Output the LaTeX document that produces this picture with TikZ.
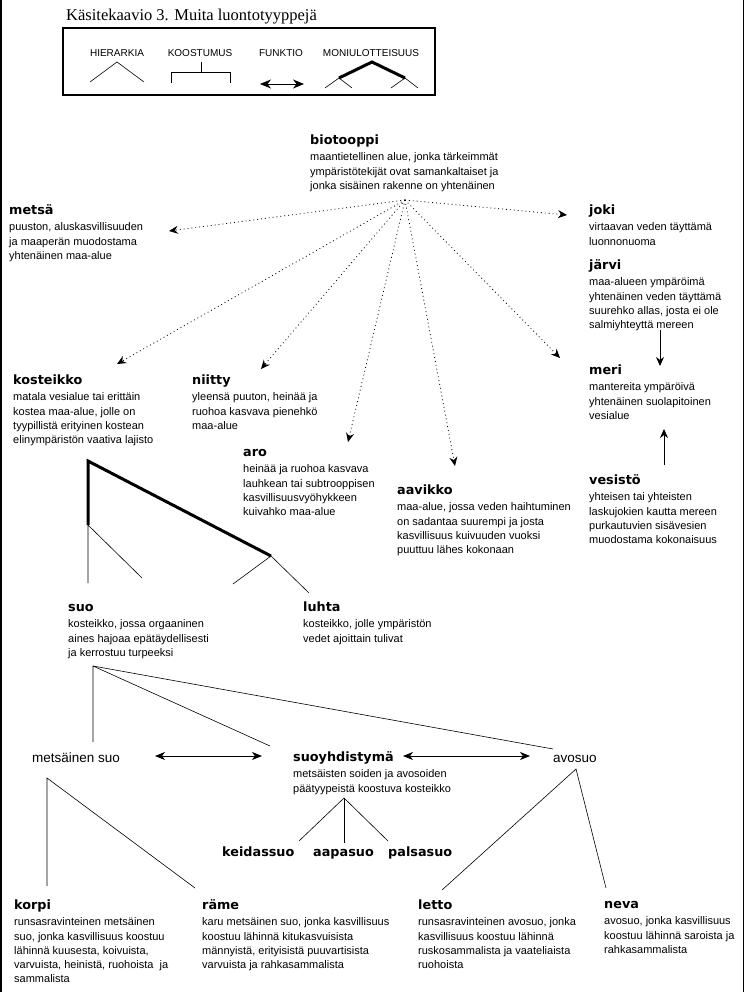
\documentclass[tikz,border=0pt]{standalone}
\usepackage{fontspec}
\setmainfont{Liberation Sans}
\newfontfamily\tfam{DejaVu Sans}
\newfontfamily\serfam{Liberation Serif}
\usetikzlibrary{arrows.meta}
\newcommand\ttlf{\tfam\bfseries\fontsize{12.8}{14}\selectfont}
\newcommand\bodyf{\fontsize{11}{14.2}\selectfont}
\newcommand\ttl[1]{{\ttlf\rule{0pt}{10pt}#1}\\[2pt]}
\begin{document}
\begin{tikzpicture}[x=1pt,y=-1pt,
  desc/.style={anchor=north west,inner sep=0pt,align=left,font=\bodyf},
  plain/.style={inner sep=0pt,font=\fontsize{13.5}{15}\selectfont},
  subt/.style={inner sep=0pt,font=\ttlf},
  leg/.style={inner sep=0pt,font=\fontsize{10}{12}\selectfont},
  tip/.style={-{Stealth[length=9pt,width=8pt,inset=3pt]}},
  dotarr/.style={tip,line width=0.8pt,dash pattern=on 0.9pt off 3pt},
  solarr/.style={tip,line width=0.8pt},
  biarr/.style={{Stealth[length=10pt,width=8pt,inset=3pt]}-{Stealth[length=10pt,width=8pt,inset=3pt]},line width=0.8pt},
  thin/.style={line width=0.6pt},
  thick/.style={line width=3pt,line join=miter},
]
\useasboundingbox (0,0) rectangle (744,992);
\fill[white] (0,0) rectangle (744,992);
\draw[line width=1.5pt] (0.75,0) -- (0.75,992);
\draw[line width=1.5pt] (743.25,0) -- (743.25,992);

% title and legend
\node[anchor=west,inner sep=0pt,font=\serfam\fontsize{16.5}{18}\selectfont] (title) at (66,17) {Käsitekaavio 3. Muita luontotyyppejä};
\draw[line width=2.5pt] (63,28) rectangle (435,95);
\node[leg] (lh) at (117,53) {HIERARKIA};
\node[leg] (lk) at (200,53) {KOOSTUMUS};
\node[leg] (lf) at (281,53) {FUNKTIO};
\node[leg] (lm) at (371,53) {MONIULOTTEISUUS};
\draw[thin] (90,82) -- (117,62) -- (144,82);
\draw[thin] (201,62) -- (201,72);
\draw[thin] (171,83) -- (171,72) -- (230,72) -- (230,83);
\coordinate (fa) at (260,84);
\coordinate (fb) at (304,84);
\draw[{Stealth[length=11pt,width=9pt,inset=3.5pt]}-{Stealth[length=11pt,width=9pt,inset=3.5pt]},line width=0.8pt] (fa) -- (fb);
\draw[thick] (339,78) -- (372,62) -- (405,78);
\draw[thin] (325,88) -- (339,78) -- (352,88);
\draw[thin] (391,88) -- (405,78) -- (418,88);

% upper nodes
\node[desc] (bio) at (310,134.5) {\ttl{biotooppi}maantietellinen alue, jonka tärkeimmät\\ympäristötekijät ovat samankaltaiset ja\\jonka sisäinen rakenne on yhtenäinen};
\node[desc] (metsa) at (9,204.5) {\ttl{metsä}puuston, aluskasvillisuuden\\ja maaperän muodostama\\yhtenäinen maa-alue};
\node[desc] (joki) at (589,204.5) {\ttl{joki}virtaavan veden täyttämä\\luonnonuoma};
\node[desc] (jarvi) at (589,259.5) {\ttl{järvi}maa-alueen ympäröimä\\yhtenäinen veden täyttämä\\suurehko allas, josta ei ole\\salmiyhteyttä mereen};
\node[desc] (meri) at (589,364.5) {\ttl{meri}mantereita ympäröivä\\yhtenäinen suolapitoinen\\vesialue};
\node[desc] (vesisto) at (589,474.5) {\ttl{vesistö}yhteisen tai yhteisten\\laskujokien kautta mereen\\purkautuvien sisävesien\\muodostama kokonaisuus};
\node[desc] (kost) at (13,374.5) {\ttl{kosteikko}matala vesialue tai erittäin\\kostea maa-alue, jolle on\\tyypillistä erityinen kostean\\elinympäristön vaativa lajisto};
\node[desc] (niitty) at (192,374.5) {\ttl{niitty}yleensä puuton, heinää ja\\ruohoa kasvava pienehkö\\maa-alue};
\node[desc] (aro) at (243,446.5) {\ttl{aro}heinää ja ruohoa kasvava\\lauhkean tai subtrooppisen\\kasvillisuusvyöhykkeen\\kuivahko maa-alue};
\node[desc] (aavikko) at (397,484.5) {\ttl{aavikko}maa-alue, jossa veden haihtuminen\\on sadantaa suurempi ja josta\\kasvillisuus kuivuuden vuoksi\\puuttuu lähes kokonaan};

% biotooppi arrows
\coordinate (bo) at (405,200);
\coordinate (tmetsa) at (169,231);
\coordinate (tjoki) at (567,215);
\coordinate (tkost) at (117,364);
\coordinate (tniitty) at (261,369);
\coordinate (taro) at (348,442);
\coordinate (taavikko) at (455,466);
\coordinate (tmeri) at (560,358);
\foreach \t in {tmetsa,tjoki,tkost,tniitty,taro,taavikko,tmeri}
  \draw[dotarr] (bo) -- (\t);

\coordinate (jb) at (660,330);
\coordinate (mt) at (660,366);
\draw[solarr] (jb) -- (mt);
\coordinate (vt) at (664,465);
\coordinate (mb) at (664,429);
\draw[solarr] (vt) -- (mb);

% kosteikko -> suo, luhta
\coordinate (k1) at (88,461);
\coordinate (k2) at (88,525);
\coordinate (k3) at (271,556);
\draw[thick] (k2) -- (k1) -- (k3);
\coordinate (k2a) at (88,583);
\coordinate (k2b) at (142,578);
\coordinate (k3a) at (233,584);
\coordinate (k3b) at (309,593);
\draw[thin] (k2a) -- (k2) -- (k2b);
\draw[thin] (k3a) -- (k3) -- (k3b);

\node[desc] (suo) at (68,601.5) {\ttl{suo}kosteikko, jossa orgaaninen\\aines hajoaa epätäydellisesti\\ja kerrostuu turpeeksi};
\node[desc] (luhta) at (303,601.5) {\ttl{luhta}kosteikko, jolle ympäristön\\vedet ajoittain tulivat};

% suo children
\node[plain,anchor=base west] (msuo) at (32,762) {metsäinen suo};
\node[desc] (suoy) at (293,751.5) {\ttl{suoyhdistymä}metsäisten soiden ja avosoiden\\päätyypeistä koostuva kosteikko};
\node[plain,anchor=base west] (avosuo) at (553,762) {avosuo};
\coordinate (s0) at (93,666);
\coordinate (s1) at (93,742);
\coordinate (s2) at (270,746);
\coordinate (s3) at (553,749);
\draw[thin] (s1) -- (s0) -- (s2);
\draw[thin] (s0) -- (s3);
\coordinate (a1) at (155,756);
\coordinate (a2) at (262,756);
\coordinate (a3) at (403,756);
\coordinate (a4) at (530,756);
\draw[biarr] (a1) -- (a2);
\draw[biarr] (a3) -- (a4);

% suoyhdistymä children
\node[subt,anchor=base west] (keidas) at (222,856) {keidassuo};
\node[subt,anchor=base west] (aapa) at (313,856) {aapasuo};
\node[subt,anchor=base west] (palsa) at (388,856) {palsasuo};
\coordinate (y0) at (344,798);
\coordinate (y1) at (299,841);
\coordinate (y2) at (344,843);
\coordinate (y3) at (388,841);
\draw[thin] (y1) -- (y0) -- (y3);
\draw[thin] (y0) -- (y2);

% lower nodes
\coordinate (m0) at (47,778);
\coordinate (m1) at (47,886);
\coordinate (m2) at (195,888);
\draw[thin] (m1) -- (m0) -- (m2);
\coordinate (v0) at (576,769);
\coordinate (v1) at (442,890);
\coordinate (v2) at (606,888);
\draw[thin] (v1) -- (v0) -- (v2);

\node[desc] (korpi) at (14,899.5) {\ttl{korpi}runsasravinteinen metsäinen\\suo, jonka kasvillisuus koostuu\\lähinnä kuusesta, koivuista,\\varvuista, heinistä, ruohoista\ \ ja\\sammalista};
\node[desc] (rame) at (202,899.5) {\ttl{räme}karu metsäinen suo, jonka kasvillisuus\\koostuu lähinnä kitukasvuisista\\männyistä, erityisistä puuvartisista\\varvuista ja rahkasammalista};
\node[desc] (letto) at (418,899.5) {\ttl{letto}runsasravinteinen avosuo, jonka\\kasvillisuus koostuu lähinnä\\ruskosammalista ja vaateliaista\\ruohoista};
\node[desc] (neva) at (604,898.5) {\ttl{neva}avosuo, jonka kasvillisuus\\koostuu lähinnä saroista ja\\rahkasammalista};
\end{tikzpicture}
\end{document}
